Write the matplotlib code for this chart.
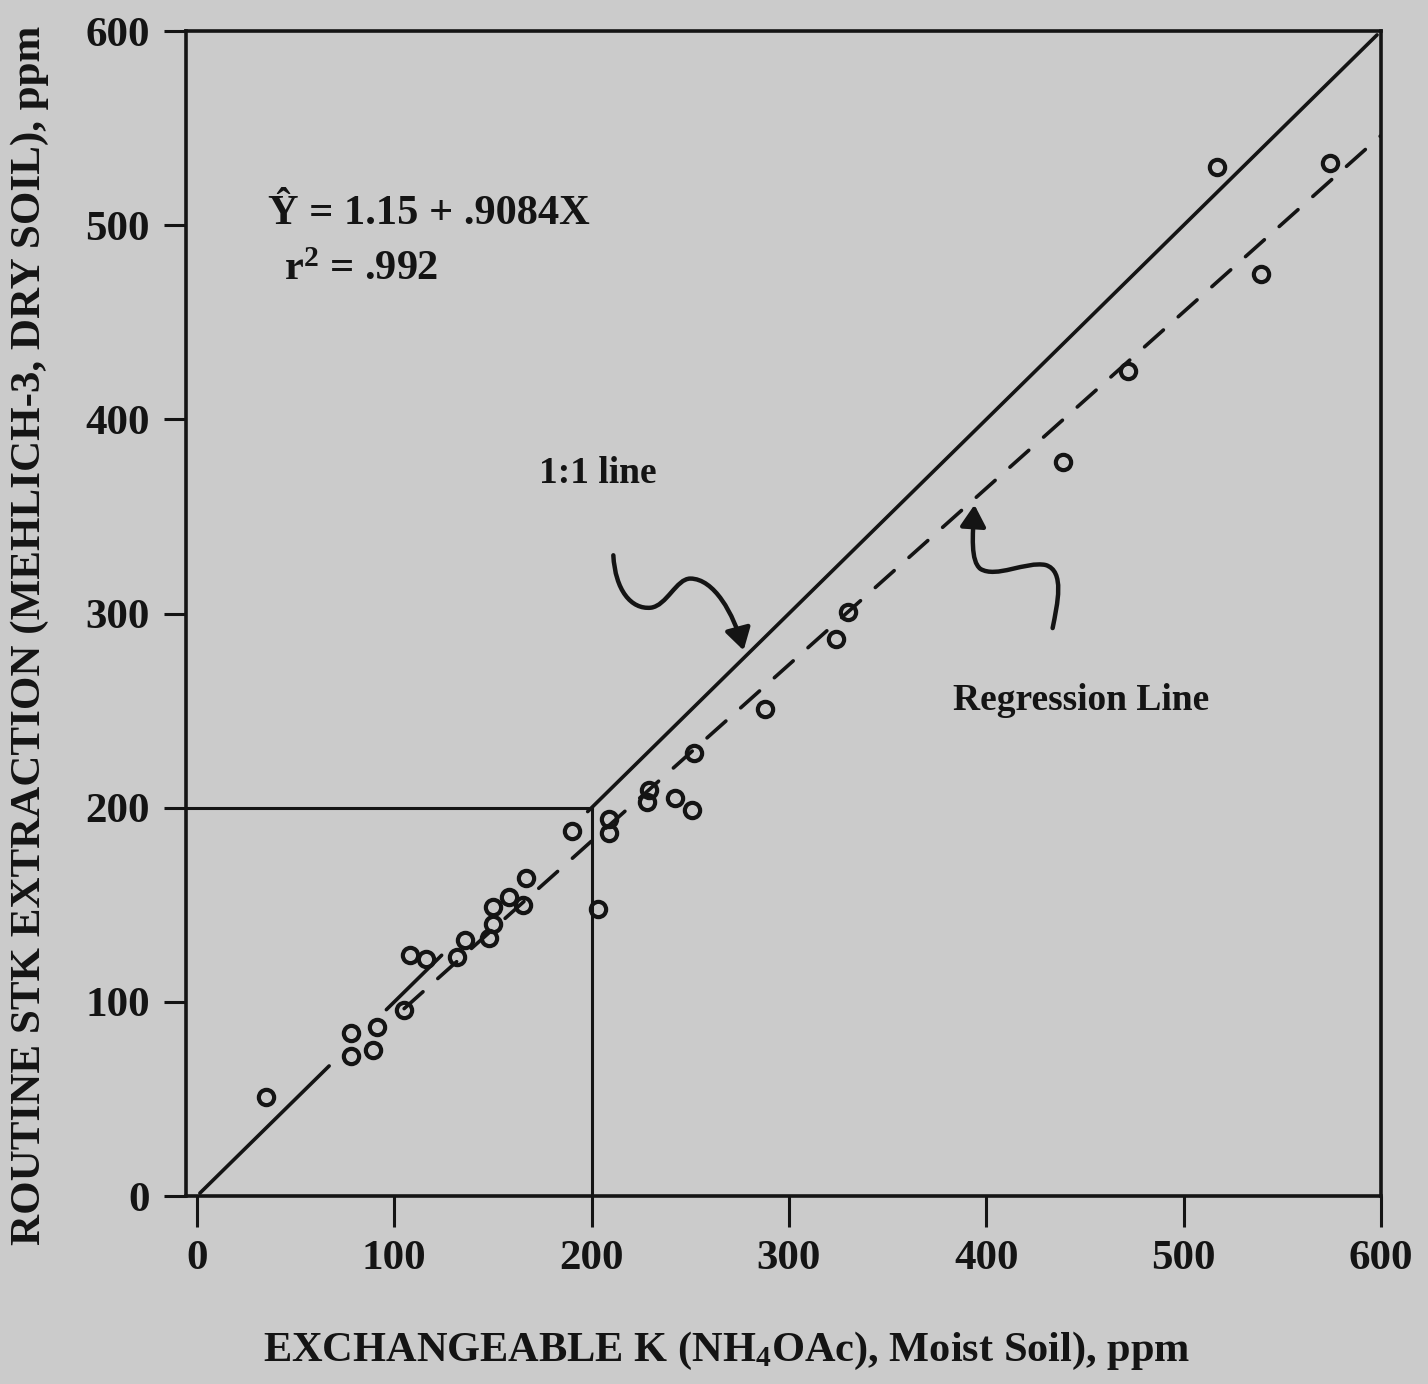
import numpy as np
import matplotlib
matplotlib.use("Agg")
import matplotlib.pyplot as plt
from matplotlib.path import Path
from matplotlib.patches import FancyArrowPatch

# Data (ppm)
exch_k = [35, 78, 78, 91, 89, 105, 108, 116, 136, 132, 148, 150, 150, 158, 165, 167,
          190, 203, 209, 209, 229, 228, 242, 251, 252, 288, 324, 330, 439, 472, 539, 517, 574]
mehlich_k = [51, 84, 72, 87, 75, 96, 124, 122, 132, 123, 133, 140, 149, 154, 150, 164,
             188, 148, 194, 187, 209, 203, 205, 199, 228, 251, 287, 301, 378, 425, 475, 530, 532]

# regression reported on the chart
intercept = 1.15
slope = 0.9084
reg_x = [105, 600]

# drawn pieces of the 1:1 line (gaps where the points sit)
one_to_one_pieces = [(1.5, 67), (96, 124), (198, 598)]

ticks = [0, 100, 200, 300, 400, 500, 600]
crit_level = 200

plt.rcParams['font.family'] = ['Liberation Serif', 'DejaVu Serif']
plt.rcParams['font.weight'] = 'bold'
plt.rcParams['mathtext.fontset'] = 'custom'
plt.rcParams['mathtext.rm'] = 'Liberation Serif:bold'
plt.rcParams['mathtext.it'] = 'Liberation Serif:bold'
plt.rcParams['mathtext.bf'] = 'Liberation Serif:bold'
plt.rcParams['mathtext.default'] = 'rm'

paper = '#cbcbcb'
ink = '#141414'

fig = plt.figure(figsize=(14.28, 13.84), dpi=100, facecolor=paper)
ax = fig.add_axes([0.1303, 0.1358, 0.8368, 0.8418], facecolor=paper)

# 1:1 line
for x0, x1 in one_to_one_pieces:
    ax.plot([x0, x1], [x0, x1], color=ink, lw=2.6, solid_capstyle='round', zorder=2)

# regression line
rx = np.array(reg_x, dtype=float)
ax.plot(rx, intercept + slope * rx, color=ink, lw=2.6, dashes=(7, 5.5),
        dash_capstyle='round', zorder=2)

# critical level guide lines
ax.plot([-5.5, crit_level], [crit_level, crit_level], color=ink, lw=2.2, zorder=2)
ax.plot([crit_level, crit_level], [0, crit_level], color=ink, lw=2.2, zorder=2)

ax.plot(exch_k, mehlich_k, linestyle='none', marker='o', markersize=11,
        markerfacecolor='none', markeredgecolor=ink, markeredgewidth=3, zorder=3)

ax.set_xlim(-5.5, 600)
ax.set_ylim(0, 600)
ax.set_xticks(ticks)
ax.set_yticks(ticks)
ax.tick_params(axis='x', direction='out', length=22, width=2.2, pad=10,
               labelsize=31, colors=ink)
ax.tick_params(axis='y', direction='out', length=16, width=2.2, pad=10,
               labelsize=31, colors=ink)
for lab in ax.get_xticklabels() + ax.get_yticklabels():
    lab.set_fontweight('bold')
for sp in ax.spines.values():
    sp.set_linewidth(2.6)
    sp.set_color(ink)

# annotations
ax.text(36, 506, 'Ŷ = 1.15 + .9084X', fontsize=30.5, fontweight='bold', color=ink,
        va='center', ha='left')
ax.text(44, 477, 'r$^2$ = .992', fontsize=30.5, fontweight='bold', color=ink,
        va='center', ha='left')
ax.text(203, 372, '1:1 line', fontsize=27, fontweight='bold', color=ink,
        va='center', ha='center')
ax.text(448, 255, 'Regression Line', fontsize=27, fontweight='bold', color=ink,
        va='center', ha='center')

C = Path.CURVE4
arrow1 = Path([(211, 330), (212, 312), (220, 302), (230, 303),
               (238, 304), (243, 318), (250, 318),
               (262, 318), (272, 300), (277, 281)],
              [Path.MOVETO, C, C, C, C, C, C, C, C, C])
arrow2 = Path([(433.6, 292.5), (436, 305), (440, 322), (430, 325),
               (420, 327), (405, 318), (397, 323),
               (392, 327), (393, 340), (394, 356)],
              [Path.MOVETO, C, C, C, C, C, C, C, C, C])
for p in (arrow1, arrow2):
    ax.add_patch(FancyArrowPatch(path=p, arrowstyle='-|>,head_length=0.5,head_width=0.3',
                                 mutation_scale=26, color=ink, lw=3.2, zorder=4))

fig.text(0.509, 0.024, 'EXCHANGEABLE K (NH$_4$OAc), Moist Soil), ppm', fontsize=30.5,
         fontweight='bold', color=ink, ha='center', va='center')
fig.text(0.021, 0.541, 'ROUTINE STK EXTRACTION (MEHLICH-3, DRY SOIL), ppm', fontsize=31,
         fontweight='bold', color=ink, ha='center', va='center', rotation=90)

fig.savefig('out.png', dpi=100, facecolor=paper)
